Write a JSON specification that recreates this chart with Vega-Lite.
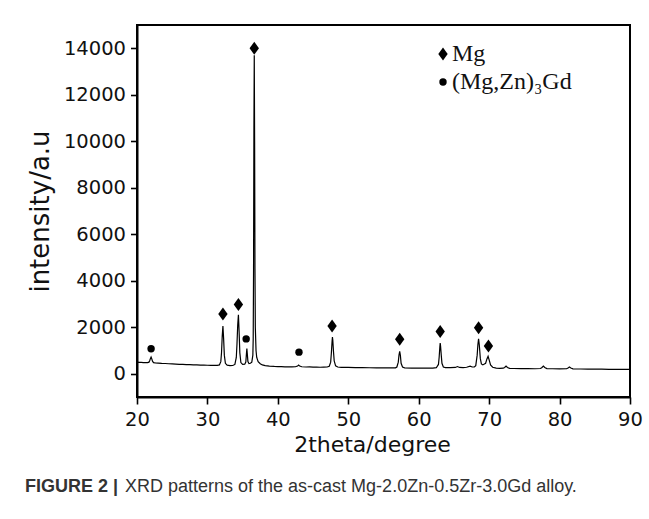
{
  "$schema": "https://vega.github.io/schema/vega-lite/v6.json",
  "width": 493,
  "height": 372,
  "autosize": {"type": "none"},
  "padding": {"left": 137, "top": 25, "right": 19, "bottom": 122},
  "background": "white",
  "title": {
    "text": "FIGURE 2 |",
    "subtitle": "\u200b\u00a0\u00a0\u00a0\u00a0\u00a0\u00a0\u00a0\u00a0\u00a0\u00a0\u00a0\u00a0\u00a0\u00a0\u00a0\u00a0\u00a0\u00a0\u00a0\u00a0XRD patterns of the as-cast Mg-2.0Zn-0.5Zr-3.0Gd alloy.",
    "orient": "bottom",
    "anchor": "start",
    "frame": "group",
    "dx": -112,
    "offset": 22,
    "font": "Liberation Sans",
    "fontSize": 18,
    "fontWeight": "bold",
    "color": "#333333",
    "subtitleFont": "Liberation Sans",
    "subtitleFontSize": 18,
    "subtitleFontWeight": "normal",
    "subtitleColor": "#333333",
    "subtitlePadding": -18
  },
  "config": {
    "view": {"stroke": "black", "strokeWidth": 2},
    "axis": {
      "grid": false,
      "domainColor": "black",
      "domainWidth": 2,
      "tickColor": "black",
      "tickWidth": 1.6,
      "labelFont": "DejaVu Sans",
      "labelFontSize": 19.5,
      "labelColor": "#111111",
      "titleFont": "DejaVu Sans",
      "titleFontWeight": "normal",
      "titleColor": "#111111"
    }
  },
  "layer": [
    {
      "data": {
        "values": [
          {"t": 20.0, "i": 500}, {"t": 20.3, "i": 490}, {"t": 20.6, "i": 485}, {"t": 20.9, "i": 480},
          {"t": 21.2, "i": 475}, {"t": 21.5, "i": 482}, {"t": 21.7, "i": 500}, {"t": 21.8, "i": 560},
          {"t": 21.9, "i": 650}, {"t": 22.0, "i": 720}, {"t": 22.1, "i": 640}, {"t": 22.2, "i": 540},
          {"t": 22.35, "i": 480}, {"t": 22.6, "i": 465}, {"t": 23.0, "i": 455}, {"t": 23.5, "i": 445},
          {"t": 24.0, "i": 440}, {"t": 24.5, "i": 430}, {"t": 25.0, "i": 422}, {"t": 25.5, "i": 415},
          {"t": 26.0, "i": 405}, {"t": 26.5, "i": 402}, {"t": 27.0, "i": 395}, {"t": 27.5, "i": 392},
          {"t": 28.0, "i": 385}, {"t": 28.5, "i": 382}, {"t": 29.0, "i": 375}, {"t": 29.5, "i": 372},
          {"t": 30.0, "i": 365}, {"t": 30.5, "i": 362}, {"t": 31.0, "i": 360}, {"t": 31.4, "i": 362},
          {"t": 31.7, "i": 380}, {"t": 31.9, "i": 520}, {"t": 32.0, "i": 900}, {"t": 32.1, "i": 1600},
          {"t": 32.2, "i": 2050}, {"t": 32.3, "i": 1500}, {"t": 32.4, "i": 800}, {"t": 32.55, "i": 450},
          {"t": 32.8, "i": 370}, {"t": 33.2, "i": 350}, {"t": 33.6, "i": 355}, {"t": 33.9, "i": 400},
          {"t": 34.1, "i": 700}, {"t": 34.2, "i": 1300}, {"t": 34.3, "i": 2100}, {"t": 34.4, "i": 2540},
          {"t": 34.5, "i": 1800}, {"t": 34.6, "i": 900}, {"t": 34.75, "i": 480}, {"t": 35.0, "i": 400},
          {"t": 35.3, "i": 410}, {"t": 35.45, "i": 500}, {"t": 35.55, "i": 900}, {"t": 35.6, "i": 1080},
          {"t": 35.65, "i": 900}, {"t": 35.75, "i": 520}, {"t": 35.9, "i": 440}, {"t": 36.1, "i": 450},
          {"t": 36.3, "i": 500}, {"t": 36.45, "i": 800}, {"t": 36.5, "i": 1500}, {"t": 36.55, "i": 4500},
          {"t": 36.6, "i": 10500}, {"t": 36.65, "i": 13700}, {"t": 36.7, "i": 10000}, {"t": 36.75, "i": 4500},
          {"t": 36.8, "i": 2000}, {"t": 36.9, "i": 1000}, {"t": 37.0, "i": 700}, {"t": 37.2, "i": 520},
          {"t": 37.5, "i": 430}, {"t": 37.8, "i": 380}, {"t": 38.2, "i": 350}, {"t": 38.8, "i": 330},
          {"t": 39.5, "i": 315}, {"t": 40.0, "i": 310}, {"t": 40.5, "i": 305}, {"t": 41.0, "i": 300},
          {"t": 41.5, "i": 302}, {"t": 42.0, "i": 295}, {"t": 42.5, "i": 300}, {"t": 42.8, "i": 330},
          {"t": 42.95, "i": 370}, {"t": 43.1, "i": 330}, {"t": 43.4, "i": 300}, {"t": 44.0, "i": 290},
          {"t": 44.5, "i": 292}, {"t": 45.0, "i": 285}, {"t": 45.5, "i": 287}, {"t": 46.0, "i": 280},
          {"t": 46.5, "i": 285}, {"t": 47.0, "i": 290}, {"t": 47.3, "i": 320}, {"t": 47.5, "i": 500},
          {"t": 47.6, "i": 900}, {"t": 47.7, "i": 1400}, {"t": 47.75, "i": 1580}, {"t": 47.8, "i": 1450},
          {"t": 47.9, "i": 950}, {"t": 48.0, "i": 550}, {"t": 48.2, "i": 340}, {"t": 48.5, "i": 290},
          {"t": 49.0, "i": 275}, {"t": 50.0, "i": 270}, {"t": 51.0, "i": 265}, {"t": 52.0, "i": 262},
          {"t": 53.0, "i": 258}, {"t": 54.0, "i": 255}, {"t": 55.0, "i": 250}, {"t": 56.0, "i": 252},
          {"t": 56.7, "i": 255}, {"t": 56.9, "i": 290}, {"t": 57.1, "i": 500}, {"t": 57.2, "i": 800},
          {"t": 57.3, "i": 960}, {"t": 57.4, "i": 780}, {"t": 57.5, "i": 450}, {"t": 57.7, "i": 290},
          {"t": 58.0, "i": 255}, {"t": 59.0, "i": 245}, {"t": 60.0, "i": 240}, {"t": 61.0, "i": 242},
          {"t": 62.0, "i": 245}, {"t": 62.5, "i": 260}, {"t": 62.8, "i": 400}, {"t": 62.9, "i": 700},
          {"t": 63.0, "i": 1150}, {"t": 63.05, "i": 1320}, {"t": 63.1, "i": 1200}, {"t": 63.2, "i": 800},
          {"t": 63.3, "i": 450}, {"t": 63.5, "i": 290}, {"t": 63.8, "i": 262}, {"t": 64.5, "i": 260},
          {"t": 65.2, "i": 270}, {"t": 65.5, "i": 310}, {"t": 65.8, "i": 270}, {"t": 66.3, "i": 260},
          {"t": 66.8, "i": 280}, {"t": 67.3, "i": 330}, {"t": 67.6, "i": 290}, {"t": 67.9, "i": 290},
          {"t": 68.1, "i": 350}, {"t": 68.3, "i": 800}, {"t": 68.4, "i": 1250}, {"t": 68.5, "i": 1500},
          {"t": 68.6, "i": 1250}, {"t": 68.75, "i": 650}, {"t": 68.9, "i": 420}, {"t": 69.1, "i": 380},
          {"t": 69.5, "i": 450}, {"t": 69.7, "i": 650}, {"t": 69.85, "i": 750}, {"t": 70.0, "i": 600},
          {"t": 70.2, "i": 380}, {"t": 70.5, "i": 280}, {"t": 71.0, "i": 240}, {"t": 71.5, "i": 235},
          {"t": 72.0, "i": 240}, {"t": 72.2, "i": 270}, {"t": 72.4, "i": 330}, {"t": 72.6, "i": 270},
          {"t": 72.9, "i": 235}, {"t": 73.5, "i": 225}, {"t": 74.5, "i": 222}, {"t": 75.5, "i": 220},
          {"t": 76.5, "i": 215}, {"t": 77.3, "i": 225}, {"t": 77.5, "i": 270}, {"t": 77.7, "i": 330},
          {"t": 77.9, "i": 270}, {"t": 78.2, "i": 220}, {"t": 79.0, "i": 215}, {"t": 80.0, "i": 210},
          {"t": 81.0, "i": 215}, {"t": 81.2, "i": 250}, {"t": 81.4, "i": 290}, {"t": 81.6, "i": 250},
          {"t": 81.9, "i": 210}, {"t": 83.0, "i": 205}, {"t": 84.0, "i": 200}, {"t": 85.0, "i": 195},
          {"t": 86.0, "i": 197}, {"t": 87.0, "i": 190}, {"t": 88.0, "i": 192}, {"t": 89.0, "i": 185},
          {"t": 90.0, "i": 185}
        ]
      },
      "mark": {"type": "line", "color": "black", "strokeWidth": 1.2},
      "encoding": {
        "x": {
          "field": "t",
          "type": "quantitative",
          "scale": {"domain": [20, 90], "nice": false, "zero": false},
          "axis": {
            "title": "2theta/degree",
            "titleFontSize": 22,
            "titlePadding": 6,
            "titleX": 235,
            "values": [20, 25, 30, 35, 40, 45, 50, 55, 60, 65, 70, 75, 80, 85, 90],
            "labelExpr": "datum.value % 10 === 0 ? datum.label : ''",
            "tickSize": {"condition": {"test": "datum.value % 10 !== 0", "value": 5}, "value": 7},
            "labelPadding": 6,
            "labelFlush": false
          }
        },
        "y": {
          "field": "i",
          "type": "quantitative",
          "scale": {"domain": [-1000, 15000], "nice": false},
          "axis": {
            "title": "intensity/a.u",
            "titleFontSize": 26,
            "titlePadding": 10,
            "values": [0, 1000, 2000, 3000, 4000, 5000, 6000, 7000, 8000, 9000, 10000, 11000, 12000, 13000, 14000],
            "labelExpr": "datum.value % 2000 === 0 ? datum.value : ''",
            "tickSize": {"condition": {"test": "datum.value % 2000 !== 0", "value": 3.5}, "value": 6.5},
            "labelPadding": 5
          }
        }
      }
    },
    {
      "data": {
        "values": [
          {"t": 32.2, "i": 2570, "phase": "Mg"},
          {"t": 34.4, "i": 2980, "phase": "Mg"},
          {"t": 36.65, "i": 14000, "phase": "Mg"},
          {"t": 47.7, "i": 2050, "phase": "Mg"},
          {"t": 57.3, "i": 1480, "phase": "Mg"},
          {"t": 63.05, "i": 1820, "phase": "Mg"},
          {"t": 68.5, "i": 1980, "phase": "Mg"},
          {"t": 69.9, "i": 1190, "phase": "Mg"},
          {"t": 22.0, "i": 1075, "phase": "(Mg,Zn)\u2083Gd"},
          {"t": 35.5, "i": 1500, "phase": "(Mg,Zn)\u2083Gd"},
          {"t": 43.0, "i": 930, "phase": "(Mg,Zn)\u2083Gd"}
        ]
      },
      "mark": {"type": "point", "filled": true, "opacity": 1, "strokeWidth": 0},
      "encoding": {
        "x": {"field": "t", "type": "quantitative"},
        "y": {"field": "i", "type": "quantitative"},
        "shape": {
          "field": "phase",
          "type": "nominal",
          "scale": {"domain": ["Mg", "(Mg,Zn)\u2083Gd"], "range": ["M0,-1L0.72,0L0,1L-0.72,0Z", "circle"]},
          "legend": {
            "title": null,
            "orient": "none",
            "legendX": 294,
            "legendY": 17,
            "labelFont": "Liberation Serif",
            "labelFontSize": 24,
            "labelColor": "#111111",
            "labelOffset": -3,
            "rowPadding": 4,
            "symbolStrokeWidth": 0,
            "symbolOpacity": 1
          }
        },
        "size": {
          "field": "phase",
          "type": "nominal",
          "scale": {"domain": ["Mg", "(Mg,Zn)\u2083Gd"], "range": [170, 55]}
        },
        "color": {
          "field": "phase",
          "type": "nominal",
          "scale": {"domain": ["Mg", "(Mg,Zn)\u2083Gd"], "range": ["black", "black"]}
        }
      }
    }
  ]
}
